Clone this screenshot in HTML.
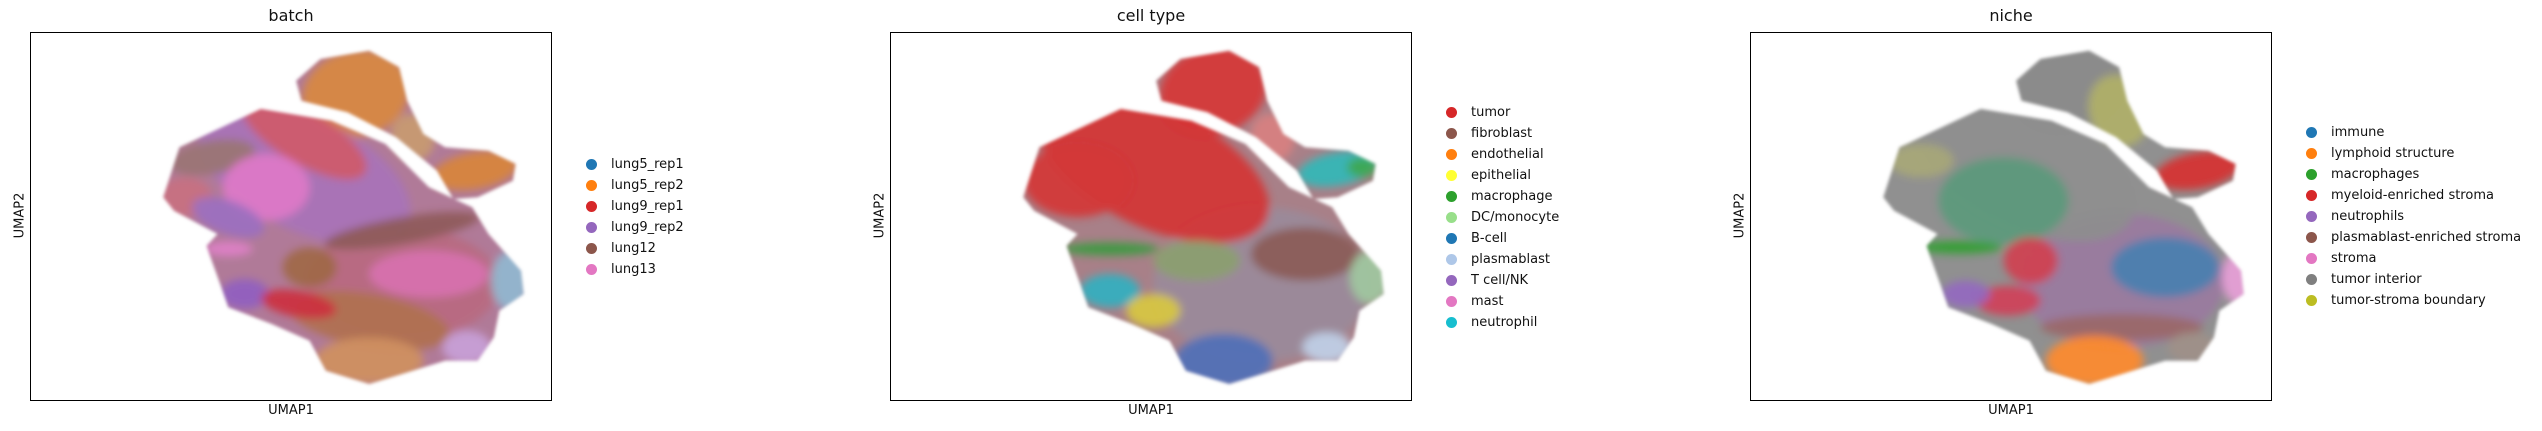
<!DOCTYPE html>
<html><head><meta charset="utf-8">
<style>
body{margin:0;width:2542px;height:431px;background:#fff;position:relative;overflow:hidden;font-family:"DejaVu Sans","Liberation Sans",sans-serif;color:#111}
.panel{position:absolute;top:0;height:431px;width:860px}
.box{position:absolute;left:0;top:32px;width:522px;height:369px;border:1.3px solid #000;box-sizing:border-box}
.title{position:absolute;top:6px;width:522px;text-align:center;font-size:16px}
.xl{position:absolute;top:403px;width:522px;text-align:center;font-size:13px}
.yl{position:absolute;left:-40px;top:208px;width:60px;text-align:center;font-size:13px;transform:rotate(-90deg)}
.leg{position:absolute;font-size:13px}
.li{position:absolute;white-space:nowrap;height:21px;line-height:21px}
.dot{position:absolute;left:-25px;top:5px;width:11px;height:11px;border-radius:50%}
svg{position:absolute;left:0;top:0}
</style></head><body>
<div id="root"></div>
<script>
const batchLabels=["lung5_rep1","lung5_rep2","lung9_rep1","lung9_rep2","lung12","lung13"];
const batchColors=["#1f77b4","#ff7f0e","#d62728","#9467bd","#8c564b","#e377c2"];
const cellLabels=["tumor","fibroblast","endothelial","epithelial","macrophage","DC/monocyte","B-cell","plasmablast","T cell/NK","mast","neutrophil"];
const cellColors=["#d62728","#8c564b","#ff7f0e","#ffff33","#2ca02c","#98df8a","#1f77b4","#aec7e8","#9467bd","#e377c2","#17becf"];
const nicheLabels=["immune","lymphoid structure","macrophages","myeloid-enriched stroma","neutrophils","plasmablast-enriched stroma","stroma","tumor interior","tumor-stroma boundary"];
const nicheColors=["#1f77b4","#ff7f0e","#2ca02c","#d62728","#9467bd","#8c564b","#e377c2","#7f7f7f","#bcbd22"];
// embedding silhouette (reference frame)
const bodyOutline=[[300,590],[330,440],[480,325],[610,360],[710,430],[790,560],[870,620],[900,700],[960,810],[965,880],[920,930],[910,1010],[880,1080],[820,1080],[760,1110],[680,1150],[600,1110],[570,1020],[500,970],[420,920],[405,850],[385,760],[380,735],[400,700],[320,630]];
const lobeOutline=[[545,240],[590,175],[680,150],[735,200],[750,300],[780,400],[820,440],[900,450],[950,490],[945,540],[880,590],[835,595],[805,510],[730,410],[640,335],[555,300]];
// blobs [x, y, rx, ry, rotation, color]
const batchBlobs=[
[655,280,100,130,-15,"#d8883f"],[760,410,40,72,-25,"#c89a70"],[875,510,80,55,-10,"#d8843a"],
[560,520,210,170,25,"#a873b8"],[560,410,130,80,30,"#cf5a6a"],[390,470,80,50,-10,"#9a7474"],
[340,590,50,60,0,"#c87080"],[490,560,80,100,0,"#de7ac8"],[420,650,70,50,20,"#9c6fc0"],
[740,850,180,170,0,"#b86a80"],[740,690,145,40,-10,"#8e5a5a"],[790,820,110,70,0,"#d870b0"],
[680,960,150,80,10,"#b07050"],[680,1080,100,70,0,"#cf9060"],[860,1040,45,50,0,"#c8a0d8"],
[940,840,35,90,0,"#90b8d0"],[450,880,45,45,0,"#9060c0"],[550,910,70,40,10,"#cc3040"],
[420,745,45,22,0,"#e080c8"],[570,800,50,60,0,"#a06848"]];
const cellBlobs=[
[650,270,100,130,-15,"#d63838"],[760,410,40,72,-25,"#d88080"],
[880,505,75,50,-10,"#30b8b8"],[925,500,28,30,0,"#40a850"],
[740,850,200,230,0,"#9a8a9a"],
[540,500,230,180,25,"#d43535"],[400,540,100,110,0,"#d43838"],
[820,760,100,80,0,"#8c5c58"],[620,780,80,60,0,"#8ca070"],[460,745,90,20,0,"#3a9a40"],
[460,870,55,50,0,"#30b0c0"],[540,930,50,50,0,"#d8c840"],[670,1080,90,80,0,"#5070b8"],
[860,1040,45,45,0,"#c0d0e8"],[940,830,38,80,0,"#a0c8a0"]];
const nicheBlobs=[
[642,260,100,120,-15,"#8a8a8a"],[735,330,55,110,-20,"#b0b068"],[880,510,80,55,-10,"#d63030"],
[740,840,190,200,0,"#9a7aa0"],
[560,500,220,180,25,"#8e8e8e"],[370,480,60,50,0,"#a8a878"],[522,600,120,130,0,"#5c9a7c"],
[440,740,80,20,0,"#30a030"],[820,800,100,90,0,"#4a80b0"],[740,980,150,40,0,"#9a6868"],
[572,780,50,70,0,"#d04050"],[530,900,60,45,0,"#d04058"],[452,880,45,40,0,"#9468c0"],
[955,830,30,80,0,"#e8a0d8"],[690,1080,90,75,0,"#ff8a2a"],[870,1040,45,45,0,"#a09088"]];

const W=522,H=369;
const sx=x=>(x-56)/963*W, sy=y=>(y-97)/1107*H;
const NS="http://www.w3.org/2000/svg";
const pts=o=>o.map(p=>sx(p[0]).toFixed(1)+','+sy(p[1]).toFixed(1)).join(' ');
function panel(left,title,labels,colors,blobs,legTop,base){
  const p=document.createElement('div');p.className='panel';p.style.left=left+'px';
  
  
  const t=document.createElement('div');t.className='title';t.textContent=title;
  
  
  p.appendChild(t);
  const b=document.createElement('div');b.className='box';
  
  
  const s=document.createElementNS(NS,'svg');s.setAttribute('width',W);s.setAttribute('height',H);
  const fid='f'+left, cid='c'+left, eid='e'+left;
  s.innerHTML='<defs><filter id="'+fid+'" x="-50%" y="-50%" width="200%" height="200%"><feGaussianBlur stdDeviation="4"/></filter>'+
    '<filter id="'+eid+'"><feGaussianBlur stdDeviation="1.5"/></filter>'+
    '<clipPath id="'+cid+'"><polygon points="'+pts(bodyOutline)+'"/><polygon points="'+pts(lobeOutline)+'"/></clipPath></defs>'+
    '<g filter="url(#'+eid+')"><g clip-path="url(#'+cid+')"><rect width="'+W+'" height="'+H+'" fill="'+base+'"/><g id="g'+left+'" filter="url(#'+fid+')"></g></g></g>';
  b.appendChild(s);
  const g=s.querySelector('#g'+left);
  blobs.forEach(d=>{
    const e=document.createElementNS(NS,'ellipse');
    
    
    const cx=sx(d[0]),cy=sy(d[1]);
    e.setAttribute('cx',cx);e.setAttribute('cy',cy);
    e.setAttribute('rx',d[2]/963*W);e.setAttribute('ry',d[3]/1107*H);
    e.setAttribute('transform','rotate('+d[4]+' '+cx+' '+cy+')');
    e.setAttribute('fill',d[5]);e.setAttribute('opacity','0.92');
    g.appendChild(e);
  });
  p.appendChild(b);
  const xl=document.createElement('div');xl.className='xl';xl.textContent='UMAP1';
  
  
  p.appendChild(xl);
  const yl=document.createElement('div');yl.className='yl';yl.textContent='UMAP2';
  
  
  p.appendChild(yl);
  const lg=document.createElement('div');lg.className='leg';lg.style.left='581px';lg.style.top=(legTop-10)+'px';
  
  
  labels.forEach((l,i)=>{
    const it=document.createElement('div');it.className='li';it.style.top=(i*21)+'px';it.style.left='0px';
    
    
    const dt=document.createElement('span');dt.className='dot';dt.style.background=colors[i];
    it.appendChild(dt);it.appendChild(document.createTextNode(l));lg.appendChild(it);
  });
  p.appendChild(lg);
  document.getElementById('root').appendChild(p);
}
panel(30,'batch',batchLabels,batchColors,batchBlobs,164,'#b07a98');
panel(890,'cell type',cellLabels,cellColors,cellBlobs,112,'#a88088');
panel(1750,'niche',nicheLabels,nicheColors,nicheBlobs,132,'#909090');
</script>
</body></html>
